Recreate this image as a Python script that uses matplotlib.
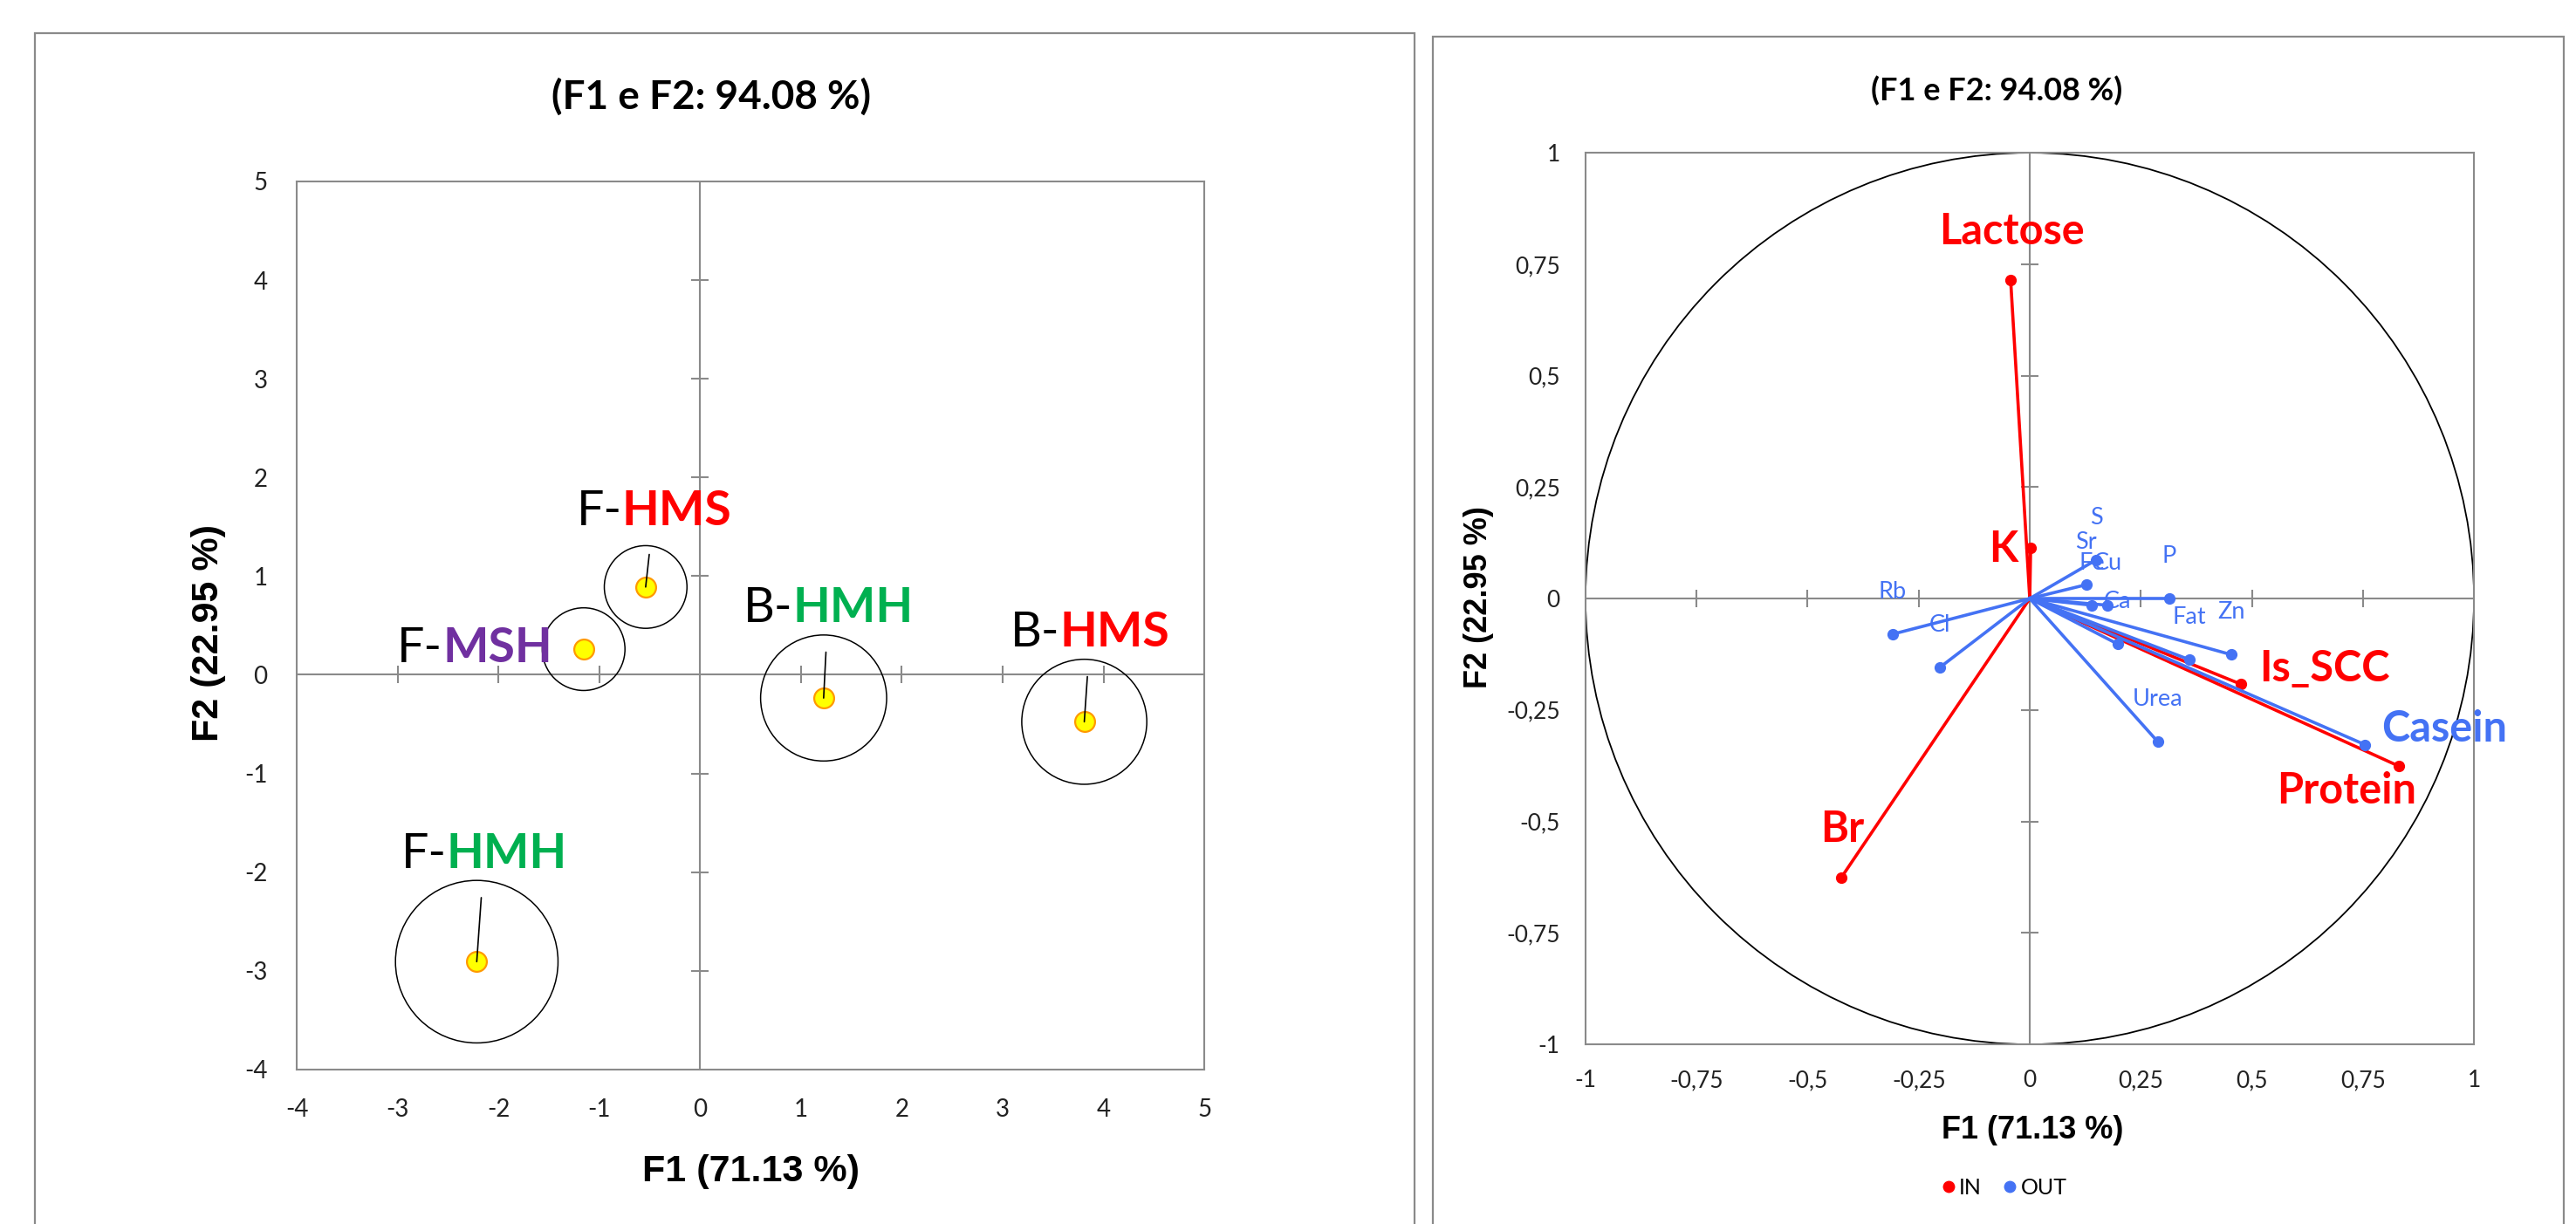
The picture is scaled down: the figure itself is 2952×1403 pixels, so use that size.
import numpy as np
import matplotlib
matplotlib.use("Agg")
import matplotlib.pyplot as plt
from matplotlib.patches import Rectangle, Circle
from matplotlib.lines import Line2D
from matplotlib.offsetbox import TextArea, HPacker, AnnotationBbox
from matplotlib.ticker import FuncFormatter

plt.rcParams['font.family'] = ['Lato', 'DejaVu Sans']
plt.rcParams['axes.unicode_minus'] = False

# observations map (left)
obs_prefix = ['F-', 'F-', 'B-', 'B-', 'F-']
obs_code = ['HMS', 'MSH', 'HMH', 'HMS', 'HMH']
obs_f1 = [-0.54, -1.155, 1.225, 3.81, -2.215]
obs_f2 = [0.89, 0.26, -0.235, -0.476, -2.907]
obs_radius = [0.41, 0.41, 0.625, 0.62, 0.806]  # bubble radius in F1 units

# correlation circle (right)
in_vars = ['Lactose', 'K', 'Br', 'Is_SCC', 'Protein']
in_f1 = [-0.043, 0.002, -0.425, 0.475, 0.831]
in_f2 = [0.714, 0.113, -0.627, -0.192, -0.376]

out_vars = ['S', 'Sr', 'Fe', 'Cu', 'P', 'Rb', 'Cl', 'Ca', 'Fat', 'Zn', 'Urea', 'Casein']
out_f1 = [0.150, 0.127, 0.140, 0.175, 0.314, -0.309, -0.203, 0.198, 0.359, 0.454, 0.288, 0.755]
out_f2 = [0.087, 0.031, -0.015, -0.015, 0.0, -0.080, -0.155, -0.102, -0.137, -0.126, -0.321, -0.328]

left_ticks = list(range(-4, 6))
right_ticks = [-1, -0.75, -0.5, -0.25, 0, 0.25, 0.5, 0.75, 1]

title = '(F1 e F2: 94.08 %)'
xlab = 'F1 (71.13 %)'
ylab = 'F2 (22.95 %)'

# colours / layout
code_colors = {'HMS': '#FF0000', 'MSH': '#7030A0', 'HMH': '#00B050'}
RED = '#FF0000'
BLUE = '#4472F4'
GRAY = '#8a8a8a'
obs_label_offset = {0: (0.083, 0.767), 1: (-1.079, 0.006), 2: (0.045, 0.903),
                    3: (0.06, 0.896), 4: (0.075, 1.087)}
obs_leader = [True, False, True, True, True]
big_offset = {'Lactose': (0.003, 0.109), 'K': (-0.062, -0.003), 'Br': (0.003, 0.11),
              'Is_SCC': (0.189, 0.034), 'Protein': (-0.118, -0.056), 'Casein': (0.179, 0.036)}
small_offset = (0.0, 0.095)

DPI = 100
fig = plt.figure(figsize=(29.52, 14.03), dpi=DPI)

# panel borders
fig.add_artist(Rectangle((0.0136, -0.1), 0.5355, 1.0729, transform=fig.transFigure,
                         fill=False, ec=GRAY, lw=1.6))
fig.add_artist(Rectangle((0.5562, -0.1), 0.4390, 1.0700, transform=fig.transFigure,
                         fill=False, ec=GRAY, lw=1.6))


def style_axes(ax, ticks, size, pad, fmt=None):
    ax.set_xlim(ticks[0], ticks[-1])
    ax.set_ylim(ticks[0], ticks[-1])
    ax.set_xticks(ticks)
    ax.set_yticks(ticks)
    if fmt is not None:
        ax.xaxis.set_major_formatter(fmt)
        ax.yaxis.set_major_formatter(fmt)
    ax.tick_params(length=0, labelsize=size, pad=pad, colors='#222222')
    for s in ax.spines.values():
        s.set_color(GRAY)
        s.set_linewidth(1.5)
    ax.axhline(0, color=GRAY, lw=1.5, zorder=1)
    ax.axvline(0, color=GRAY, lw=1.5, zorder=1)
    inner = [t for t in ticks if t not in (ticks[0], ticks[-1], 0)]
    ax.plot(inner, [0] * len(inner), ls='none', marker='|', ms=15, mew=1.5, color=GRAY, zorder=1)
    ax.plot([0] * len(inner), inner, ls='none', marker='_', ms=15, mew=1.5, color=GRAY, zorder=1)


# ---------------- left: observations ----------------
ax1 = fig.add_axes([0.1152, 0.1262, 0.3523, 0.7256])
style_axes(ax1, left_ticks, 20, 24)

ppu = ax1.transData.transform((1, 0))[0] - ax1.transData.transform((0, 0))[0]
sizes = [(2 * r * ppu * 72 / DPI) ** 2 for r in obs_radius]
ax1.scatter(obs_f1, obs_f2, s=sizes, facecolors='none', edgecolors='black', linewidths=1.1, zorder=3)
ax1.scatter(obs_f1, obs_f2, s=270, facecolors='#FFFF00', edgecolors='#FF9900', linewidths=1.6, zorder=4)

for i in range(len(obs_f1)):
    dx, dy = obs_label_offset[i]
    box = HPacker(children=[
        TextArea(obs_prefix[i], textprops=dict(fontsize=40, color='black')),
        TextArea(obs_code[i], textprops=dict(fontsize=40, color=code_colors[obs_code[i]], fontweight='bold')),
    ], align='baseline', pad=0, sep=0)
    arrow = dict(arrowstyle='-', color='black', lw=1.2, shrinkA=17, shrinkB=0) if obs_leader[i] else None
    ab = AnnotationBbox(box, (obs_f1[i], obs_f2[i]), xybox=(obs_f1[i] + dx, obs_f2[i] + dy),
                        boxcoords='data', frameon=False, pad=0, arrowprops=arrow, zorder=5)
    ax1.add_artist(ab)

ax1.set_xlabel(xlab, fontsize=31, fontweight='bold', family='Liberation Sans', va='center')
ax1.xaxis.set_label_coords(0.5, -0.115)
ax1.set_ylabel(ylab, fontsize=31, fontweight='bold', family='Liberation Sans', va='center')
ax1.yaxis.set_label_coords(-0.097, 0.492)
fig.text(0.2761, 0.9209, title, ha='center', va='center', fontsize=33, fontweight='bold')

# ---------------- right: correlation circle ----------------
ax2 = fig.add_axes([0.6155, 0.1468, 0.3449, 0.7284])
comma = FuncFormatter(lambda v, p: ('%g' % v).replace('.', ','))
style_axes(ax2, right_ticks, 19, 21, comma)
ax2.add_patch(Circle((0, 0), 1, fill=False, ec='black', lw=1.3, zorder=2))

for names, xs, ys, col in [(in_vars, in_f1, in_f2, RED), (out_vars, out_f1, out_f2, BLUE)]:
    for n, x, y in zip(names, xs, ys):
        ax2.plot([0, x], [0, y], color=col, lw=2.6, marker='o', ms=8.5, markevery=[1], zorder=3)
        if n in big_offset:
            dx, dy = big_offset[n]
            ax2.text(x + dx, y + dy, n, color=col, fontsize=35, fontweight='bold',
                     ha='center', va='center', zorder=5)
        else:
            ax2.text(x + small_offset[0], y + small_offset[1], n, color=col, fontsize=19.5,
                     ha='center', va='center', zorder=5)

ax2.set_xlabel(xlab, fontsize=26, fontweight='bold', family='Liberation Sans', va='center')
ax2.xaxis.set_label_coords(0.503, -0.096)
ax2.set_ylabel(ylab, fontsize=26, fontweight='bold', family='Liberation Sans', va='center')
ax2.yaxis.set_label_coords(-0.12, 0.501)
fig.text(0.7751, 0.9259, title, ha='center', va='center', fontsize=26, fontweight='bold')

handles = [Line2D([], [], ls='none', marker='o', ms=9, color=RED),
           Line2D([], [], ls='none', marker='o', ms=9, color=BLUE)]
ax2.legend(handles, ['IN', 'OUT'], loc='center', bbox_to_anchor=(0.4715, -0.161), ncol=2,
           frameon=False, fontsize=18, handlelength=0.6, handletextpad=0.2, columnspacing=1.0)

fig.savefig('out.png', dpi=DPI)
